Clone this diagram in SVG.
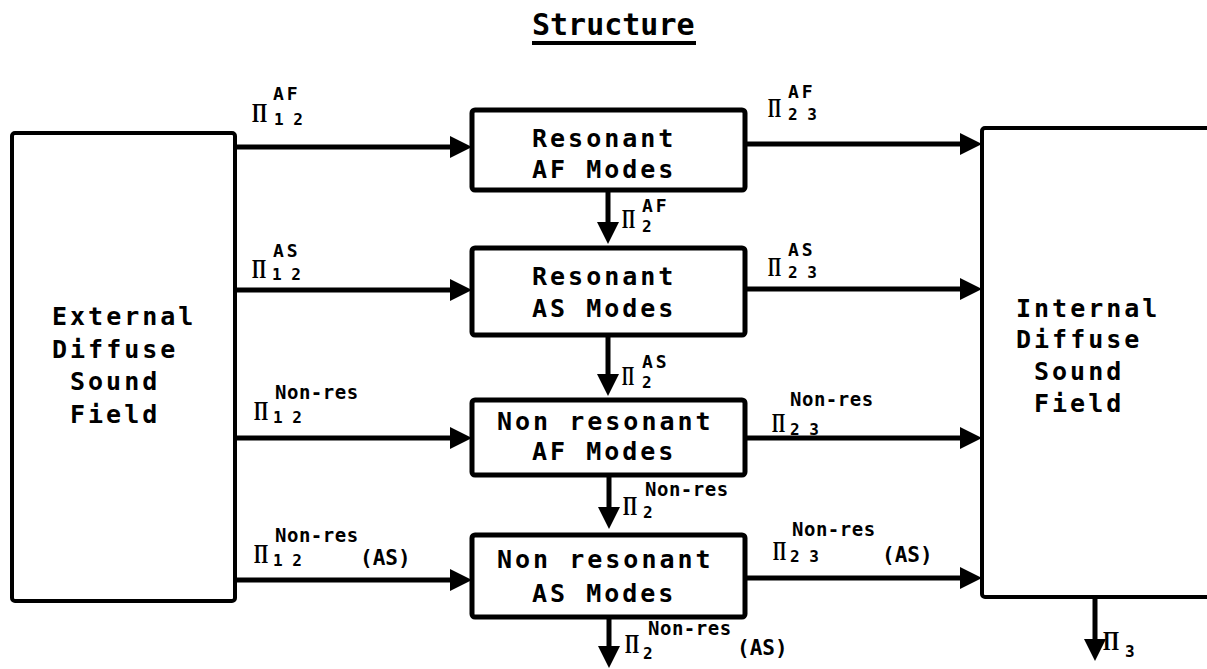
<svg xmlns="http://www.w3.org/2000/svg" width="1207" height="669" viewBox="0 0 1207 669">
<style>
.big{fill:#fff;stroke:#000;stroke-width:4}
.mid{fill:#fff;stroke:#000;stroke-width:5}
.bt{font-family:"DejaVu Sans Mono","Liberation Mono",monospace;font-weight:bold;font-size:25px;letter-spacing:3px;fill:#000}
.ttl{font-family:"DejaVu Sans Mono","Liberation Mono",monospace;font-weight:bold;font-size:30px;fill:#000}
.pi{font-family:"Liberation Serif","DejaVu Serif",serif;font-weight:bold;font-size:28px;fill:#000}
.sup{font-family:"DejaVu Sans Mono","Liberation Mono",monospace;font-weight:bold;font-size:18px;letter-spacing:3px;fill:#000}
.nr{font-family:"DejaVu Sans Mono","Liberation Mono",monospace;font-weight:bold;font-size:19px;letter-spacing:0.5px;fill:#000}
.sub{font-family:"DejaVu Sans Mono","Liberation Mono",monospace;font-weight:bold;font-size:16px;fill:#000}
.par{font-family:"DejaVu Sans Mono","Liberation Mono",monospace;font-weight:bold;font-size:21px;fill:#000}
.ln{fill:none;stroke:#000;stroke-width:5}
</style>
<defs>
<marker id="ah" markerUnits="userSpaceOnUse" viewBox="0 0 22 22" refX="0" refY="11" markerWidth="22" markerHeight="22" orient="auto">
<path d="M0,0 L22,11 L0,22 Z" fill="#000"/>
</marker>
</defs>

<g id="title">
<text class="ttl" x="532" y="35">Structure</text>
<line x1="532" y1="43" x2="696" y2="43" stroke="#000" stroke-width="4"/>
</g>

<g id="external">
<rect class="big" x="12" y="133" width="223" height="468" rx="3"/>
<text class="bt" x="52" y="325">External</text>
<text class="bt" x="52" y="358">Diffuse</text>
<text class="bt" x="70" y="390">Sound</text>
<text class="bt" x="70" y="423">Field</text>
</g>

<g id="internal">
<rect class="big" x="982" y="128" width="240" height="469" rx="3"/>
<text class="bt" x="1016" y="317">Internal</text>
<text class="bt" x="1016" y="348">Diffuse</text>
<text class="bt" x="1034" y="380">Sound</text>
<text class="bt" x="1034" y="412">Field</text>
</g>

<g id="res-af">
<rect class="mid" x="472" y="110" width="273" height="80" rx="3"/>
<text class="bt" x="532" y="147">Resonant</text>
<text class="bt" x="532" y="178">AF Modes</text>
</g>

<g id="res-as">
<rect class="mid" x="472" y="248" width="273" height="87" rx="3"/>
<text class="bt" x="532" y="285">Resonant</text>
<text class="bt" x="532" y="317">AS Modes</text>
</g>

<g id="nonres-af">
<rect class="mid" x="472" y="400" width="273" height="75" rx="3"/>
<text class="bt" x="497" y="430">Non resonant</text>
<text class="bt" x="532" y="460">AF Modes</text>
</g>

<g id="nonres-as">
<rect class="mid" x="472" y="535" width="273" height="82" rx="3"/>
<text class="bt" x="497" y="568">Non resonant</text>
<text class="bt" x="532" y="602">AS Modes</text>
</g>

<g id="connectors">
<path class="ln" d="M235,147 H450" marker-end="url(#ah)"/>
<path class="ln" d="M235,290 H450" marker-end="url(#ah)"/>
<path class="ln" d="M235,438 H450" marker-end="url(#ah)"/>
<path class="ln" d="M235,580 H450" marker-end="url(#ah)"/>
<path class="ln" d="M745,144 H960" marker-end="url(#ah)"/>
<path class="ln" d="M745,289 H960" marker-end="url(#ah)"/>
<path class="ln" d="M745,438 H960" marker-end="url(#ah)"/>
<path class="ln" d="M745,578 H960" marker-end="url(#ah)"/>
<path class="ln" d="M608,190 V222" marker-end="url(#ah)"/>
<path class="ln" d="M608,335 V374" marker-end="url(#ah)"/>
<path class="ln" d="M609,475 V507" marker-end="url(#ah)"/>
<path class="ln" d="M609,617 V646" marker-end="url(#ah)"/>
<path class="ln" d="M1095,597 V639" marker-end="url(#ah)"/>
</g>

<g id="labels">
<text class="pi" x="252" y="122" textLength="15" lengthAdjust="spacingAndGlyphs">Π</text>
<text class="sup" x="273" y="100">AF</text>
<text class="sub" x="274" y="125">1 2</text>

<text class="pi" x="252" y="278" textLength="14" lengthAdjust="spacingAndGlyphs">Π</text>
<text class="sup" x="273" y="257">AS</text>
<text class="sub" x="272" y="280">1 2</text>

<text class="pi" x="254" y="420" textLength="14" lengthAdjust="spacingAndGlyphs">Π</text>
<text class="nr" x="275" y="399">Non-res</text>
<text class="sub" x="273" y="423">1 2</text>

<text class="pi" x="254" y="563" textLength="14" lengthAdjust="spacingAndGlyphs">Π</text>
<text class="nr" x="275" y="542">Non-res</text>
<text class="sub" x="273" y="566">1 2</text>
<text class="par" x="360" y="565">(AS)</text>

<text class="pi" x="768" y="117" textLength="13" lengthAdjust="spacingAndGlyphs">Π</text>
<text class="sup" x="788" y="98">AF</text>
<text class="sub" x="788" y="120">2 3</text>

<text class="pi" x="768" y="276" textLength="13" lengthAdjust="spacingAndGlyphs">Π</text>
<text class="sup" x="788" y="256">AS</text>
<text class="sub" x="788" y="278">2 3</text>

<text class="pi" x="772" y="432" textLength="13" lengthAdjust="spacingAndGlyphs">Π</text>
<text class="nr" x="790" y="406">Non-res</text>
<text class="sub" x="790" y="435">2 3</text>

<text class="pi" x="773" y="560" textLength="13" lengthAdjust="spacingAndGlyphs">Π</text>
<text class="nr" x="792" y="536">Non-res</text>
<text class="sub" x="790" y="562">2 3</text>
<text class="par" x="882" y="562">(AS)</text>

<text class="pi" x="622" y="228" textLength="13" lengthAdjust="spacingAndGlyphs">Π</text>
<text class="sup" x="642" y="212">AF</text>
<text class="sub" x="642" y="232">2</text>

<text class="pi" x="622" y="385" textLength="12" lengthAdjust="spacingAndGlyphs">Π</text>
<text class="sup" x="642" y="368">AS</text>
<text class="sub" x="642" y="388">2</text>

<text class="pi" x="623" y="515" textLength="14" lengthAdjust="spacingAndGlyphs">Π</text>
<text class="nr" x="645" y="496">Non-res</text>
<text class="sub" x="643" y="518">2</text>

<text class="pi" x="625" y="653" textLength="14" lengthAdjust="spacingAndGlyphs">Π</text>
<text class="nr" x="648" y="635">Non-res</text>
<text class="sub" x="643" y="659">2</text>
<text class="par" x="737" y="655">(AS)</text>

<text class="pi" x="1103" y="650" textLength="16" lengthAdjust="spacingAndGlyphs">Π</text>
<text class="sub" x="1125" y="657">3</text>
</g>
</svg>
